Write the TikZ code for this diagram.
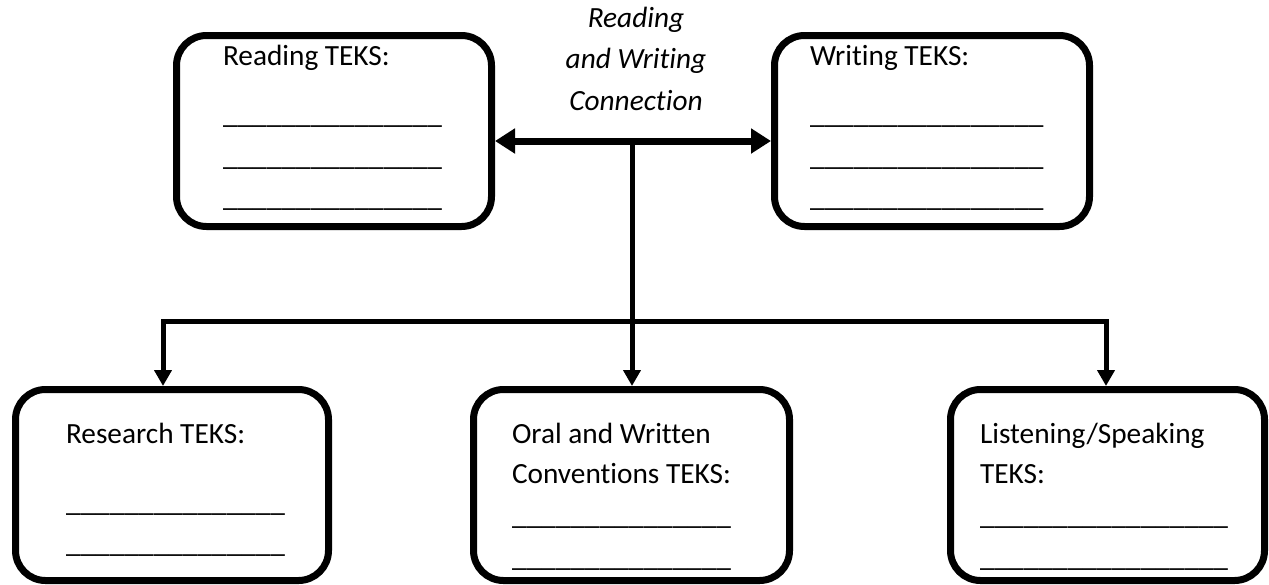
\documentclass[tikz,border=0pt]{standalone}
\usepackage{fontspec}
\setmainfont{Carlito}[Ligatures=NoCommon]
\usetikzlibrary{arrows.meta}
\newcommand\bodyfont{\fontsize{29.3}{41}\selectfont}
\newcommand\blankline[1]{\foreach \i in {1,...,#1}{\_}}
\begin{document}
\begin{tikzpicture}[x=1pt,y=-1pt,
  box/.style={draw, line width=7pt, rounded corners=30pt, inner sep=0pt,
    minimum height=191pt, minimum width=#1},
  lbl/.style={anchor=base west, inner sep=0pt, outer sep=0pt, font=\bodyfont},
  captext/.style={anchor=base, inner sep=0pt, outer sep=0pt, font=\bodyfont\itshape},
  bigarrow/.style={line width=7pt, {Triangle[length=20pt,width=24pt]}-{Triangle[length=20pt,width=24pt]}},
  stem/.style={line width=5pt},
  downarrow/.style={line width=5pt, line join=miter, {Triangle[length=16pt,width=17pt]}-{Triangle[length=16pt,width=17pt]}},
  downone/.style={line width=5pt, -{Triangle[length=16pt,width=17pt]}}
]
\useasboundingbox (0,0) rectangle (1269,584);

% boxes
\node[box=315pt] (reading) at (334,131) {};
\node[box=315pt] (writing) at (932,131) {};
\node[box=313pt] (research) at (172,485) {};
\node[box=316pt] (oral) at (631.5,485) {};
\node[box=314pt] (listen) at (1107.5,485) {};

% texts
\node[lbl] (rt) at (223,65) {Reading TEKS:};
\node[lbl] (r1) at (223,123) {\blankline{15}};
\node[lbl] (r2) at (223,165) {\blankline{15}};
\node[lbl] (r3) at (223,206) {\blankline{15}};

\node[lbl] (wt) at (810,65) {Writing TEKS:};
\node[lbl] (w1) at (810,123) {\blankline{16}};
\node[lbl] (w2) at (810,165) {\blankline{16}};
\node[lbl] (w3) at (810,206) {\blankline{16}};

\node[lbl] (st) at (66,443) {Research TEKS:};
\node[lbl] (s1) at (66,511) {\blankline{15}};
\node[lbl] (s2) at (66,552) {\blankline{15}};

\node[lbl] (ot1) at (512,443) {Oral and Written};
\node[lbl] (ot2) at (512,483) {Conventions TEKS:};
\node[lbl] (o1) at (512,524) {\blankline{15}};
\node[lbl] (o2) at (512,566) {\blankline{15}};

\node[lbl] (lt1) at (980,443) {Listening/Speaking};
\node[lbl] (lt2) at (980,483) {TEKS:};
\node[lbl] (l1) at (980,524) {\blankline{17}};
\node[lbl] (l2) at (980,566) {\blankline{17}};

\node[captext] (c1) at (636,27) {Reading};
\node[captext] (c2) at (636,68) {and Writing};
\node[captext] (c3) at (636,110) {Connection};

% connectors
\coordinate (T) at (632,141);
\coordinate (J) at (632,321);
\coordinate (L) at (163,321);
\coordinate (R) at (1106,321);

\draw[bigarrow] (reading.east |- T) -- (writing.west |- T);
\draw[stem] (T) -- (J);
\draw[downarrow] (L |- research.north) -- (L) -- (R) -- (R |- listen.north);
\draw[downone] (J) -- (J |- oral.north);
\end{tikzpicture}
\end{document}
